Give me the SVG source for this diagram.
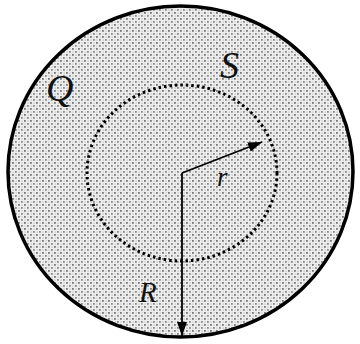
<svg xmlns="http://www.w3.org/2000/svg" width="360" height="344" viewBox="0 0 360 344">
<defs>
<pattern id="stip" width="6" height="6" patternUnits="userSpaceOnUse">
<rect width="6" height="6" fill="#eeeeee"/>
<rect x="0" y="0" width="1.8" height="1.8" fill="#777"/>
<rect x="3" y="3" width="1.8" height="1.8" fill="#8a8a8a"/>
<rect x="3.5" y="0.5" width="1.2" height="1.2" fill="#bbb"/>
<rect x="0.5" y="3.5" width="1.2" height="1.2" fill="#bbb"/>
</pattern>
<marker id="ah" viewBox="0 0 14 10" refX="14" refY="5" markerWidth="14" markerHeight="10" markerUnits="userSpaceOnUse" orient="auto">
<path d="M0,0 L14,5 L0,10 Z" fill="#000"/>
</marker>
<style>
.lbl{font-family:"Liberation Serif",serif;font-style:italic;fill:#111}
</style>
</defs>
<g id="sphere">
<ellipse cx="180.5" cy="171.5" rx="172.5" ry="165.5" fill="url(#stip)" stroke="#000" stroke-width="3.5"/>
</g>
<g id="gauss">
<ellipse cx="182" cy="173" rx="95" ry="88" fill="none" stroke="#000" stroke-width="3" stroke-dasharray="2.5 3"/>
</g>
<g id="connectors">
<path d="M182,173 L262,142" stroke="#000" stroke-width="1.8" fill="none" marker-end="url(#ah)" />
<path d="M182,173 L182,336" stroke="#000" stroke-width="1.8" fill="none" marker-end="url(#ah)"/>
</g>
<g id="labels">
<text class="lbl" x="46" y="101" font-size="38">Q</text>
<text class="lbl" x="220" y="78" font-size="38">S</text>
<text class="lbl" x="217" y="186" font-size="27">r</text>
<text class="lbl" x="139" y="302" font-size="29">R</text>
</g>
</svg>
